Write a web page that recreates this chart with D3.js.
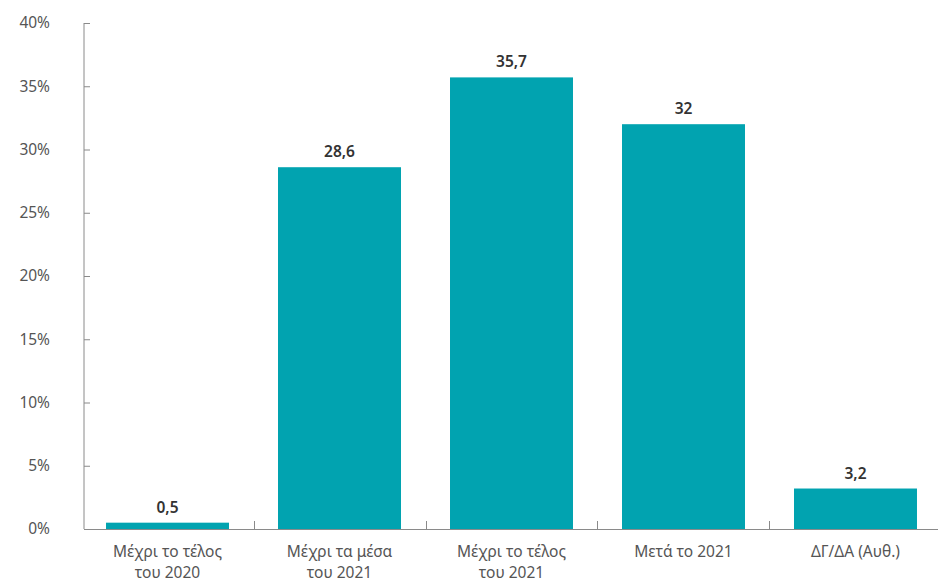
<!DOCTYPE html>
<html><head><meta charset="utf-8">
<script src="https://cdn.jsdelivr.net/npm/d3@7"></script>
<style>body{margin:0;background:#fff;} svg{display:block;}</style>
</head><body>
<svg id="c" width="938" height="585"></svg>
<script>
const categories = [["Μέχρι το τέλος","του 2020"],["Μέχρι τα μέσα","του 2021"],["Μέχρι το τέλος","του 2021"],["Μετά το 2021"],["ΔΓ/ΔΑ (Αυθ.)"]];
const values = [0.5, 28.6, 35.7, 32, 3.2];
const valueLabels = ["0,5","28,6","35,7","32","3,2"];
const yTicks = [0,5,10,15,20,25,30,35,40];

(function(){
const svg = d3.select("#c");
const mLeft = 84, mRight = 939, mTop = 23, mBottom = 529;
const font = "'Noto Sans', 'Open Sans', sans-serif";
const x = d3.scaleBand().domain(d3.range(values.length)).range([mLeft, mRight]).paddingInner(0.285).paddingOuter(0.128);
const y = d3.scaleLinear().domain([0,40]).range([mBottom, mTop]);

svg.selectAll("rect.bar").data(values).enter().append("rect")
  .attr("x",(d,i)=>x(i)).attr("width",x.bandwidth())
  .attr("y",d=>y(d)).attr("height",d=>y(0)-y(d))
  .attr("fill","#01a3b0");

svg.selectAll("text.v").data(values).enter().append("text")
  .attr("x",(d,i)=>x(i)+x.bandwidth()/2).attr("y",d=>y(d)-10)
  .attr("text-anchor","middle").attr("font-family",font).attr("font-size",15.5).attr("font-weight",600)
  .attr("fill","#333").text((d,i)=>valueLabels[i]);

const ya = svg.append("g").attr("transform",`translate(${mLeft},0)`)
  .call(d3.axisRight(y).tickValues(yTicks).tickSize(6).tickFormat(d=>d+"%"));
ya.select(".domain").attr("stroke","#8a8a8a").attr("d",`M0,${mTop}H0V${mBottom}`);
ya.selectAll(".tick line").attr("stroke","#8a8a8a");
ya.selectAll(".tick text").attr("x",-34).attr("text-anchor","end").attr("font-family",font).attr("font-size",15.5).attr("fill","#555").attr("dy","0.32em");

const g = svg.append("g");
g.append("line").attr("x1",mLeft).attr("x2",mRight).attr("y1",mBottom+0.5).attr("y2",mBottom+0.5).attr("stroke","#8a8a8a");
const bounds = d3.range(1, values.length).map(i => x(i) - x.step()*x.paddingInner()/2);
g.selectAll("line.t").data(bounds).enter().append("line")
  .attr("x1",d=>Math.round(d)+0.5).attr("x2",d=>Math.round(d)+0.5).attr("y1",mBottom-8).attr("y2",mBottom+1).attr("stroke","#8a8a8a");

categories.forEach((lines,i)=>{
  const t = svg.append("text").attr("text-anchor","middle").attr("font-family",font).attr("font-size",15.5).attr("fill","#555");
  lines.forEach((l,j)=>{
    t.append("tspan").attr("x",x(i)+x.bandwidth()/2).attr("y",557+j*21).text(l);
  });
});
})();
</script>
</body></html>
